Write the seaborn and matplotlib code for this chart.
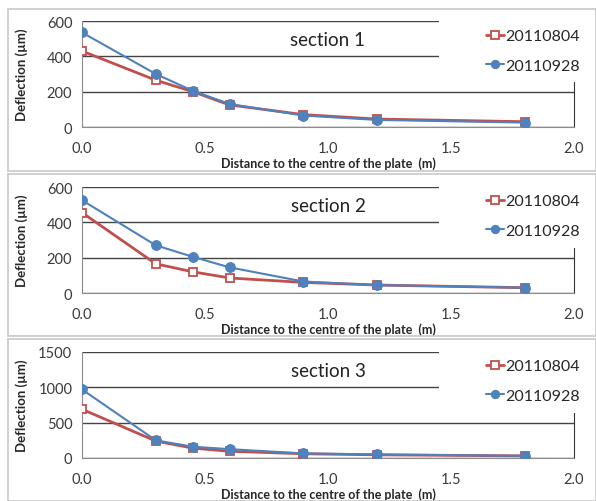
import matplotlib
matplotlib.use('Agg')
import matplotlib.pyplot as plt
import seaborn as sns
from matplotlib.patches import Rectangle

# Data
distance = [0.0, 0.3, 0.45, 0.6, 0.9, 1.2, 1.8]
series_names = ['20110804', '20110928']
sections = ['section 1', 'section 2', 'section 3']
sec1_0804 = [430, 265, 200, 125, 70, 45, 30]
sec1_0928 = [535, 300, 205, 130, 65, 40, 25]
sec2_0804 = [455, 165, 120, 85, 60, 45, 30]
sec2_0928 = [525, 270, 205, 145, 65, 45, 30]
sec3_0804 = [690, 240, 140, 95, 60, 45, 30]
sec3_0928 = [970, 250, 160, 125, 65, 50, 30]
y_max = [600, 600, 1500]
y_step = [200, 200, 500]

sns.set_style('white')
plt.rcParams['font.family'] = ['Lato', 'DejaVu Sans']

W, H = 596, 502
fig = plt.figure(figsize=(W / 100, H / 100), dpi=100)

red = '#C0504D'
blue = '#4F81BD'

# panel frames (pixel coords: top, bottom) and axes (y pixel of top/zero)
frames = [(10, 172), (175, 337), (340, 502)]
axes_px = [(22, 128), (188, 294), (353, 459)]
data = [(sec1_0804, sec1_0928), (sec2_0804, sec2_0928), (sec3_0804, sec3_0928)]
x_left, x_right = 82, 574

for i in range(3):
    ft, fb = frames[i]
    fig.patches.append(Rectangle((8 / W, 1 - fb / H), (W - 8) / W, (fb - ft) / H,
                                 transform=fig.transFigure, fill=False,
                                 edgecolor='#c8c8c8', lw=1.2))
    top, bot = axes_px[i]
    ax = fig.add_axes([x_left / W, 1 - bot / H, (x_right - x_left) / W, (bot - top) / H])
    a, b = data[i]
    sns.lineplot(x=distance, y=a, ax=ax, color=red, lw=2, marker='s', markersize=6,
                 markerfacecolor='white', markeredgecolor=red, markeredgewidth=1.3,
                 label=series_names[0], zorder=3)
    sns.lineplot(x=distance, y=b, ax=ax, color=blue, lw=1.5, marker='o', markersize=7,
                 markeredgecolor=blue, label=series_names[1], zorder=4)
    ax.set_xlim(0, 2.0)
    ax.set_ylim(0, y_max[i])
    ax.set_xticks([0, 0.5, 1.0, 1.5, 2.0])
    ax.set_xticklabels(['0.0', '0.5', '1.0', '1.5', '2.0'])
    ax.set_yticks(list(range(0, y_max[i] + 1, y_step[i])))
    ax.yaxis.grid(True, color='#444444', lw=1)
    ax.set_axisbelow(True)
    for s in ['left', 'bottom']:
        ax.spines[s].set_color('#8c8c8c')
    ax.spines['top'].set_visible(False)
    ax.spines['right'].set_color('#333333')
    ax.tick_params(axis='both', direction='out', length=4, color='#8c8c8c',
                   labelsize=10.5, labelcolor='#3a3a3a')
    ax.tick_params(axis='x', pad=6)
    ax.tick_params(axis='y', pad=3)
    ax.set_xlabel('Distance to the centre of the plate  (m)', fontsize=9,
                  fontweight='bold', labelpad=1)
    ax.set_ylabel('Deflection (\u00b5m)', fontsize=9.5, fontweight='bold')
    ax.yaxis.set_label_coords(-54 / (x_right - x_left), 0.5)
    ax.text(0.5, 0.83, sections[i], transform=ax.transAxes, ha='center', va='center',
            fontsize=13.5, color='#222222')
    # white area that holds the legend (covers gridlines and right border)
    cover_bot = top + 61
    ax.add_patch(Rectangle((439 / W, 1 - cover_bot / H), (W - 439) / W, (cover_bot - ft - 2) / H,
                           transform=fig.transFigure, facecolor='white', edgecolor='none',
                           clip_on=False, zorder=6))
    leg = ax.legend(loc='center left',
                    bbox_to_anchor=(472 / W, 1 - (ft + 42) / H),
                    bbox_transform=fig.transFigure, frameon=False,
                    fontsize=11.5, handlelength=1.1, handletextpad=0.1,
                    labelspacing=0.95, markerscale=0.85)
    leg.set_zorder(10)

fig.savefig('out.png', dpi=100)
